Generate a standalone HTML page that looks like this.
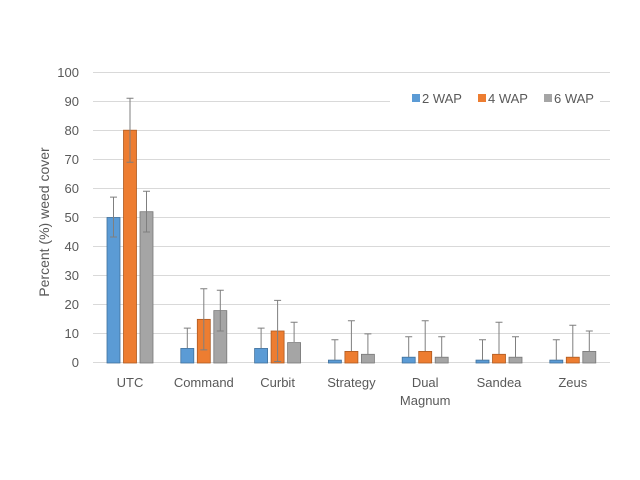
<!DOCTYPE html>
<html><head><meta charset="utf-8"><style>body{margin:0;background:#fff}svg{display:block}</style></head>
<body>
<svg width="640" height="480" xmlns="http://www.w3.org/2000/svg" font-family="Liberation Sans, sans-serif" fill="#595959">
<rect width="640" height="480" fill="#fff"/>
<g stroke="#d9d9d9" stroke-width="1">
<line x1="93" x2="610" y1="72.5" y2="72.5"/><line x1="93" x2="610" y1="101.5" y2="101.5"/>
<line x1="93" x2="610" y1="130.5" y2="130.5"/><line x1="93" x2="610" y1="159.5" y2="159.5"/>
<line x1="93" x2="610" y1="188.5" y2="188.5"/><line x1="93" x2="610" y1="217.5" y2="217.5"/>
<line x1="93" x2="610" y1="246.5" y2="246.5"/><line x1="93" x2="610" y1="275.5" y2="275.5"/>
<line x1="93" x2="610" y1="304.5" y2="304.5"/><line x1="93" x2="610" y1="333.5" y2="333.5"/>
<line x1="93" x2="610" y1="362.5" y2="362.5"/>
</g>
<g font-size="13" text-anchor="end">
<text x="79" y="77">100</text><text x="79" y="106">90</text><text x="79" y="135">80</text>
<text x="79" y="164">70</text><text x="79" y="193">60</text><text x="79" y="222">50</text>
<text x="79" y="251">40</text><text x="79" y="280">30</text><text x="79" y="309">20</text>
<text x="79" y="338">10</text><text x="79" y="367">0</text>
</g>
<text transform="translate(49,222) rotate(-90)" font-size="14" text-anchor="middle">Percent (%) weed cover</text>
<g stroke-width="0.8">
<g fill="#5b9bd5" stroke="#41719c">
<rect x="107" y="217.5" width="13" height="145.5"/><rect x="180.8" y="348.45" width="13" height="14.55"/>
<rect x="254.6" y="348.45" width="13" height="14.55"/><rect x="328.4" y="360.1" width="13" height="2.9"/>
<rect x="402.2" y="357.2" width="13" height="5.8"/><rect x="476" y="360.1" width="13" height="2.9"/>
<rect x="549.8" y="360.1" width="13" height="2.9"/>
</g>
<g fill="#ed7d31" stroke="#ae5a21">
<rect x="123.5" y="130.2" width="13" height="232.8"/><rect x="197.3" y="319.35" width="13" height="43.65"/>
<rect x="271.1" y="331" width="13" height="32"/><rect x="344.9" y="351.4" width="13" height="11.6"/>
<rect x="418.7" y="351.4" width="13" height="11.6"/><rect x="492.5" y="354.3" width="13" height="8.7"/>
<rect x="566.3" y="357.2" width="13" height="5.8"/>
</g>
<g fill="#a5a5a5" stroke="#787878">
<rect x="140" y="211.7" width="13" height="151.3"/><rect x="213.8" y="310.6" width="13" height="52.4"/>
<rect x="287.6" y="342.6" width="13" height="20.4"/><rect x="361.4" y="354.3" width="13" height="8.7"/>
<rect x="435.2" y="357.2" width="13" height="5.8"/><rect x="509" y="357.2" width="13" height="5.8"/>
<rect x="582.8" y="351.4" width="13" height="11.6"/>
</g>
</g>
<g stroke="#7f7f7f" stroke-width="1" fill="none">
<path d="M113.5 197.1V237M110 197.1h7M110 237h7"/>
<path d="M130 98.2V162.2M126.5 98.2h7M126.5 162.2h7"/>
<path d="M146.5 191.3V232M143 191.3h7M143 232h7"/>
<path d="M187.3 328.1V348M183.8 328.1h7"/>
<path d="M203.8 288.8V349.9M200.3 288.8h7M200.3 349.9h7"/>
<path d="M220.3 290.3V331M216.8 290.3h7M216.8 331h7"/>
<path d="M261.1 328.1V348M257.6 328.1h7"/>
<path d="M277.6 300.4V361.5M274.1 300.4h7M274.1 361.5h7"/>
<path d="M294.1 322.3V342M290.6 322.3h7"/>
<path d="M334.9 339.7V360M331.4 339.7h7"/>
<path d="M351.4 320.8V351M347.9 320.8h7"/>
<path d="M367.9 333.9V354M364.4 333.9h7"/>
<path d="M408.7 336.8V357M405.2 336.8h7"/>
<path d="M425.2 320.8V351M421.7 320.8h7"/>
<path d="M441.7 336.8V357M438.2 336.8h7"/>
<path d="M482.5 339.7V360M479 339.7h7"/>
<path d="M499 322.3V354M495.5 322.3h7"/>
<path d="M515.5 336.8V357M512 336.8h7"/>
<path d="M556.3 339.7V360M552.8 339.7h7"/>
<path d="M572.8 325.2V357M569.3 325.2h7"/>
<path d="M589.3 331V351M585.8 331h7"/>
</g>
<g font-size="13" text-anchor="middle">
<text x="130" y="387">UTC</text><text x="203.8" y="387">Command</text>
<text x="277.6" y="387">Curbit</text><text x="351.4" y="387">Strategy</text>
<text x="425.2" y="387">Dual</text><text x="425.2" y="405">Magnum</text>
<text x="499" y="387">Sandea</text><text x="572.8" y="387">Zeus</text>
</g>
<rect x="390" y="90" width="210" height="20" fill="#fff"/>
<g font-size="13">
<rect x="412" y="94" width="8" height="8" fill="#5b9bd5"/><text x="422" y="103">2 WAP</text>
<rect x="478" y="94" width="8" height="8" fill="#ed7d31"/><text x="488" y="103">4 WAP</text>
<rect x="544" y="94" width="8" height="8" fill="#a5a5a5"/><text x="554" y="103">6 WAP</text>
</g>
</svg>
</body></html>
